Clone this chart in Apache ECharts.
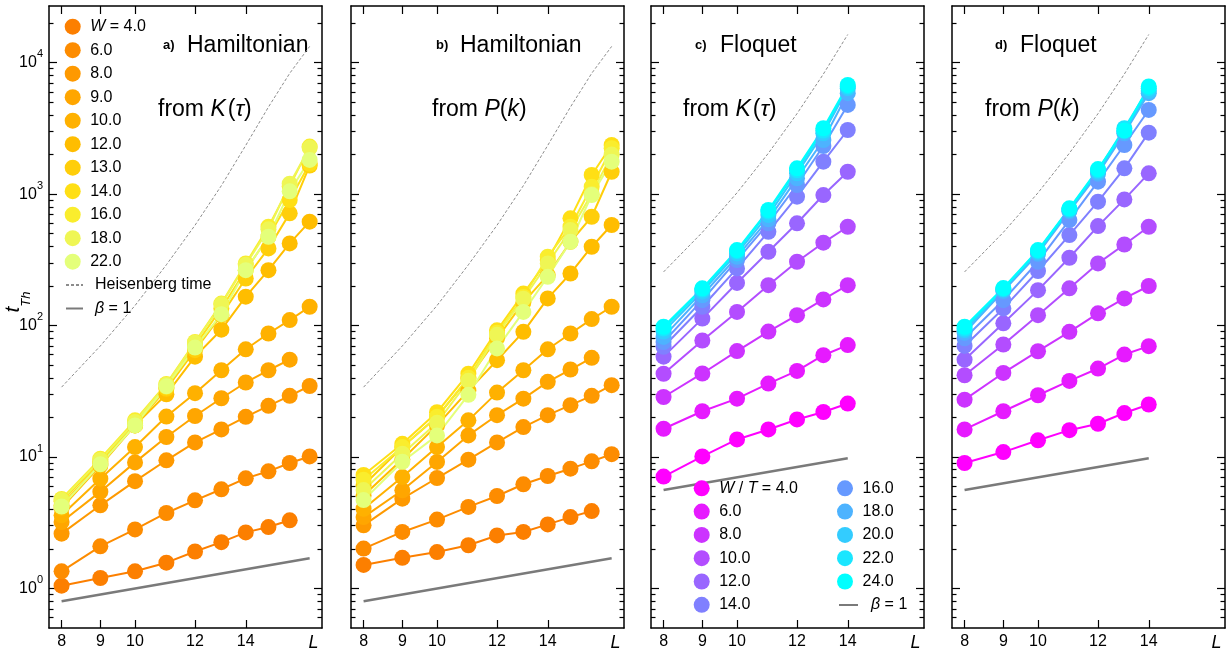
<!DOCTYPE html>
<html><head><meta charset="utf-8">
<script src="https://cdn.jsdelivr.net/npm/echarts@6/dist/echarts.min.js"></script>
<style>html,body{margin:0;padding:0;background:#fff}#c{width:1232px;height:655px}</style>
</head><body><div id="c"></div>
<script>
// ---------- data ----------
const LH = [8, 9, 10, 11, 12, 13, 14, 15, 16, 17];
const LF = [8, 9, 10, 11, 12, 13, 14];
const hamLabels = ['4.0','6.0','8.0','9.0','10.0','12.0','13.0','14.0','16.0','18.0','22.0'];
const floLabels = ['4.0','6.0','8.0','10.0','12.0','14.0','16.0','18.0','20.0','22.0','24.0'];
const hamColors = ['#fc7f00','#fd8c00','#fe9900','#ffa600','#ffb100','#ffbd00','#ffce0a','#ffdf15','#faed2d','#eff654','#e4ff7a'];
const floColors = ['#ff00ff','#e61aff','#cc33ff','#b34dff','#9966ff','#8080ff','#6699ff','#4db3ff','#33ccff','#1ae6ff','#00ffff'];

// a) Hamiltonian, from K(tau)
const aW4  = [1.05, 1.20, 1.35, 1.57, 1.91, 2.25, 2.67, 2.93, 3.30];
const aW6  = [1.35, 2.09, 2.81, 3.75, 4.68, 5.68, 6.88, 7.78, 9.0, 10.1];
const aW8  = [2.61, 4.29, 6.55, 9.44, 12.9, 16.2, 20.2, 24.5, 29.2, 34.7];
const aW9  = [3.2, 5.45, 9.1, 14.2, 20.5, 28, 36.9, 45.7, 55];
const aW10 = [3.6, 6.84, 11.9, 20.3, 30.6, 45.7, 66, 87, 110, 139];
const aW12 = [4.1, 8.6, 17.4, 30, 58, 93, 166, 264, 422, 617];
const aW13 = [4.3, 8.9, 17.4, 33, 65, 120, 228, 386, 714, 1650];
const aW14 = [4.6, 9.2, 18, 34, 70, 135, 264, 474, 902, 1700];
const aW16 = [4.8, 9.7, 19, 36, 75, 147, 297, 565, 1150, 2300];
const aW18 = [4.7, 9.5, 18.5, 35.5, 74, 145, 290, 540, 1200, 2250];
const aW22 = [4.2, 8.8, 17.4, 34.5, 68, 122, 264, 474, 1050, 1820];

// b) Hamiltonian, from P(k)
const bW4  = [1.51, 1.71, 1.89, 2.13, 2.53, 2.69, 3.07, 3.49, 3.88];
const bW6  = [2.01, 2.69, 3.34, 4.17, 5.05, 6.2, 7.17, 8.15, 9.27, 10.5];
const bW8  = [3.02, 4.82, 6.92, 9.55, 12.9, 16.9, 20.8, 24.8, 29.2, 35.2];
const bW9  = [3.49, 5.58, 9.17, 14.6, 20.8, 27.8, 37.3, 46.3, 56.8];
const bW10 = [4.04, 7.04, 11.9, 19.0, 30.9, 45.7, 66, 87, 112, 139];
const bW12 = [5.1, 9.6, 17.4, 32, 54.5, 89.6, 161, 249, 398, 582];
const bW13 = [6.1, 11.9, 20.2, 39.5, 80, 150, 242, 434, 673, 1480];
const bW14 = [7.3, 12.6, 21.9, 43, 92, 175, 315, 654, 1398, 2366];
const bW16 = [6.7, 11.9, 20.2, 40, 88, 165, 334, 565, 1138, 2233];
const bW18 = [5.6, 10.6, 18.2, 38, 85, 160, 297, 533, 1000, 2000];
const bW22 = [4.7, 9.2, 14.6, 29.7, 67, 127, 235, 434, 984, 1766];

// c) Floquet, from K(tau)
const cT4  = [7.1, 10.1, 13.6, 16.2, 19.3, 22.0, 25.5];
const cT6  = [16.4, 22.3, 27.8, 36.2, 45.2, 59.5, 71];
const cT8  = [28.6, 43.2, 64, 90, 120, 158, 203];
const cT10 = [43, 77, 127, 203, 306, 427, 565];
const cT12 = [58, 113, 211, 364, 600, 984, 1480];
const cT14 = [69, 139, 272, 517, 956, 1766, 3076];
const cT16 = [75, 156, 315, 600, 1173, 2325, 4770];
const cT18 = [82, 170, 334, 643, 1318, 2582, 5860];
const cT20 = [90, 181, 354, 693, 1439, 2904, 6390];
const cT22 = [95, 188, 368, 735, 1520, 3050, 6600];
const cT24 = [98, 192, 375, 757, 1571, 3170, 6775];

// d) Floquet, from P(k)
const dT4  = [9.0, 10.9, 13.4, 16.0, 17.9, 21.6, 25.1];
const dT6  = [16.2, 22.3, 29.5, 37.9, 47.1, 60.2, 69.7];
const dT8  = [27.3, 43.6, 63.8, 89.6, 124, 161, 200];
const dT10 = [41.9, 71.8, 120, 192, 297, 414, 565];
const dT12 = [55, 104, 186, 328, 571, 912, 1439];
const dT14 = [70, 135, 260, 488, 876, 1571, 2937];
const dT16 = [80, 156, 306, 635, 1244, 2366, 4370];
const dT18 = [88, 183, 352, 740, 1430, 2900, 5860];
const dT20 = [92, 188, 362, 757, 1480, 3000, 6100];
const dT22 = [95, 190, 370, 770, 1520, 3170, 6400];
const dT24 = [98, 193, 375, 780, 1550, 3050, 6600];

// reference curves
const heisHam = [34, 70, 142, 290, 580, 1160, 2350, 4600, 8300, 13300];
const heisFlo = [256, 512, 1024, 2048, 4096, 8192, 16384];
const betaHamL = [8, 17];
const betaHamV = [0.8, 1.7];
const betaFloL = [8, 14];
const betaFloV = [5.6, 9.8];

// ticks
const xTicks = [8, 9, 10, 12, 14];
const xLabelVals = [8, 9, 10, 12, 14, 17.2];
const yMajor = [1, 10, 100, 1000, 10000];
const yMinor = [0.6, 0.7, 0.8, 0.9, 2, 3, 4, 5, 6, 7, 8, 9, 20, 30, 40, 50, 60, 70, 80, 90,
                200, 300, 400, 500, 600, 700, 800, 900, 2000, 3000, 4000, 5000, 6000, 7000, 8000, 9000, 20000];

const panelData = [
  [aW4, aW6, aW8, aW9, aW10, aW12, aW13, aW14, aW16, aW18, aW22],
  [bW4, bW6, bW8, bW9, bW10, bW12, bW13, bW14, bW16, bW18, bW22],
  [cT4, cT6, cT8, cT10, cT12, cT14, cT16, cT18, cT20, cT22, cT24],
  [dT4, dT6, dT8, dT10, dT12, dT14, dT16, dT18, dT20, dT22, dT24]
];

// ---------- chart ----------
const FONT = '"Liberation Sans", Arial, Helvetica, sans-serif';
const gridLefts = [49, 351, 651, 952];
const chart = echarts.init(document.getElementById('c'), null, {renderer: 'canvas'});

const grids = gridLefts.map(l => ({left: l, top: 6, width: 273, height: 622, outerBoundsMode: 'none', containLabel: false}));
const XMIN = 7.7, XMAX = 17.65, YMIN = 0.5, YMAX = 27000;
const frameLine = {show: true, lineStyle: {color: '#000', width: 1.5}};
const tickStyle = {color: '#000', width: 1.2};

const xAxes = [], yAxes = [];
gridLefts.forEach((l, i) => {
  xAxes.push({
    gridIndex: i, type: 'log', logBase: 10, position: 'bottom', min: XMIN, max: XMAX,
    axisLine: frameLine, splitLine: {show: false},
    axisTick: {show: true, inside: true, length: 8, customValues: xTicks, lineStyle: tickStyle},
    axisLabel: {
      show: true, customValues: xLabelVals, margin: 6, color: '#000', fontSize: 16, fontFamily: FONT,
      formatter: v => (Math.abs(v - 17.2) < 0.01 ? '{i|L}' : String(Math.round(v))),
      rich: {i: {fontStyle: 'italic', fontSize: 18, fontFamily: FONT, color: '#000'}}
    }
  });
  xAxes.push({
    gridIndex: i, type: 'log', logBase: 10, position: 'top', min: XMIN, max: XMAX,
    axisLine: frameLine, splitLine: {show: false},
    axisTick: {show: true, inside: true, length: 8, customValues: xTicks, lineStyle: tickStyle},
    axisLabel: {show: false}
  });
  ['left', 'right'].forEach(pos => {
    yAxes.push({
      gridIndex: i, type: 'log', logBase: 10, position: pos, min: YMIN, max: YMAX,
      axisLine: frameLine, splitLine: {show: false},
      axisTick: {show: true, inside: true, length: 8, customValues: yMajor, lineStyle: tickStyle},
      axisLabel: {
        show: (i === 0 && pos === 'left'), customValues: yMajor, margin: 6, color: '#000',
        fontSize: 16, fontFamily: FONT, padding: [0, 0, 6, 0],
        formatter: v => '{b|10}{s|' + Math.round(Math.log10(v)) + '}',
        rich: {
          b: {fontSize: 16, fontFamily: FONT, color: '#000', lineHeight: 16, verticalAlign: 'bottom'},
          s: {fontSize: 11, fontFamily: FONT, color: '#000', lineHeight: 22, verticalAlign: 'top'}
        }
      }
    });
    yAxes.push({
      gridIndex: i, type: 'log', logBase: 10, position: pos, min: YMIN, max: YMAX,
      axisLine: {show: false}, splitLine: {show: false},
      axisTick: {show: true, inside: true, length: 4.5, customValues: yMinor, lineStyle: tickStyle},
      axisLabel: {show: false}
    });
  });
});

const series = [];
panelData.forEach((arrs, i) => {
  const ham = i < 2;
  const L = ham ? LH : LF;
  const names = ham ? hamLabels : floLabels;
  const colors = ham ? hamColors : floColors;
  const prefix = ham ? 'H' : 'F';
  const hv = ham ? heisHam : heisFlo;
  series.push({
    type: 'line', name: 'Heisenberg time', xAxisIndex: i * 2, yAxisIndex: i * 4,
    data: hv.map((v, j) => [L[j], v]), symbol: 'none', smooth: false,
    lineStyle: {color: '#8c8c8c', width: 1, type: [3, 2]}, itemStyle: {color: '#8c8c8c'},
    emphasis: {disabled: true}, z: 1
  });
  const bl = ham ? betaHamL : betaFloL, bv = ham ? betaHamV : betaFloV;
  series.push({
    type: 'line', name: 'beta1', xAxisIndex: i * 2, yAxisIndex: i * 4,
    data: bv.map((v, j) => [bl[j], v]), symbol: 'none',
    lineStyle: {color: '#7a7a7a', width: 2.5}, itemStyle: {color: '#7a7a7a'},
    emphasis: {disabled: true}, z: 1
  });
  arrs.forEach((vals, k) => {
    series.push({
      type: 'line', name: prefix + names[k], xAxisIndex: i * 2, yAxisIndex: i * 4,
      data: vals.map((v, j) => [L[j], v]),
      symbol: 'circle', symbolSize: 16, showSymbol: true, showAllSymbol: true,
      lineStyle: {color: colors[k], width: 2}, itemStyle: {color: colors[k]},
      emphasis: {disabled: true}, z: 2
    });
  });
});

const legTxt = {fontSize: 16, fontFamily: FONT, color: '#000', lineHeight: 16,
  rich: {
    i: {fontStyle: 'italic', fontSize: 16, fontFamily: FONT, color: '#000', lineHeight: 16},
    sp7: {width: 7, lineHeight: 16},
    sp8: {width: 8, lineHeight: 16}
  }};
const legFmt = name => {
  if (name === 'H4.0') return '{i|W} = 4.0';
  if (name === 'F4.0') return '{i|W} / {i|T} = 4.0';
  if (name[0] === 'H' || name[0] === 'F') return name.slice(1);
  return name;
};
const legBase = {orient: 'vertical', selectedMode: false, itemHeight: 16, itemGap: 7.5, formatter: legFmt, padding: 0};
const lineLegStyle = {itemStyle: {color: 'rgba(0,0,0,0)', borderColor: 'rgba(0,0,0,0)', borderWidth: 0, opacity: 0}};
const legends = [
  Object.assign({}, legBase, {left: 64.7, top: 18.7, itemWidth: 25, icon: 'circle', textStyle: legTxt,
    data: hamLabels.map(s => 'H' + s)}),
  Object.assign({}, legBase, lineLegStyle, {left: 65, top: 277, itemWidth: 17, textStyle: legTxt,
    formatter: name => (name === 'beta1' ? '{sp7|}{i|β} = 1' : '{sp7|}Heisenberg time'),
    data: ['Heisenberg time', 'beta1']}),
  Object.assign({}, legBase, {left: 693.7, top: 480.3, itemWidth: 25, itemGap: 7.3, icon: 'circle', textStyle: legTxt,
    data: floLabels.slice(0, 6).map(s => 'F' + s)}),
  Object.assign({}, legBase, {left: 837, top: 480.3, itemWidth: 25, itemGap: 7.3, icon: 'circle', textStyle: legTxt,
    data: floLabels.slice(6).map(s => 'F' + s)}),
  Object.assign({}, legBase, lineLegStyle, {left: 838, top: 597, itemWidth: 19, textStyle: legTxt,
    formatter: () => '{sp8|}{i|β} = 1', data: ['beta1']})
];

const richTitle = {
  i: {fontStyle: 'italic', fontSize: 23, fontFamily: FONT, fill: '#000'},
  n: {fontSize: 23, fontFamily: FONT, fill: '#000'},
  h: {fontSize: 23, fontFamily: FONT, fill: '#000', width: 2}
};
function txt(x, y, text, size, weight) {
  return {type: 'text', x: x, y: y, silent: true,
    style: {text: text, fontSize: size, fontWeight: weight || 'normal', fontFamily: FONT, fill: '#000',
      verticalAlign: 'middle', align: 'left', rich: richTitle}};
}
const graphics = [
  txt(163, 45, 'a)', 13, 'bold'), txt(187, 46, 'Hamiltonian', 23),
  txt(158, 110, '{n|from }{i|K}{h|}{n|(}{i|τ}{n|)}', 23),
  txt(436, 45, 'b)', 13, 'bold'), txt(460, 46, 'Hamiltonian', 23),
  txt(432, 110, '{n|from }{i|P}{n|(}{i|k}{n|)}', 23),
  txt(695, 45, 'c)', 13, 'bold'), txt(720, 46, 'Floquet', 23),
  txt(683, 110, '{n|from }{i|K}{h|}{n|(}{i|τ}{n|)}', 23),
  txt(995, 45, 'd)', 13, 'bold'), txt(1020, 46, 'Floquet', 23),
  txt(985, 110, '{n|from }{i|P}{n|(}{i|k}{n|)}', 23),
  {type: 'text', x: 18, y: 302, rotation: Math.PI / 2, silent: true,
   style: {text: '{t|t}{s|Th}', align: 'center', verticalAlign: 'middle',
     rich: {t: {fontStyle: 'italic', fontSize: 21, fontFamily: FONT, fill: '#000', lineHeight: 24, verticalAlign: 'top'},
            s: {fontStyle: 'italic', fontSize: 13, fontFamily: FONT, fill: '#000', lineHeight: 30, verticalAlign: 'bottom'}}}}
];

chart.setOption({
  animation: false,
  backgroundColor: '#fff',
  textStyle: {fontFamily: FONT},
  grid: grids, xAxis: xAxes, yAxis: yAxes,
  legend: legends, series: series, graphic: graphics
});
</script></body></html>
